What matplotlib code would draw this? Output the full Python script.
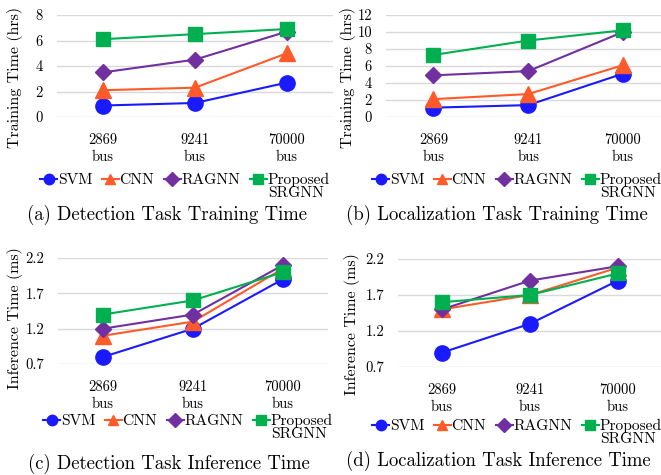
import matplotlib
matplotlib.use("Agg")
import matplotlib.pyplot as plt

plt.rcParams['font.family'] = 'cmr10'
plt.rcParams['mathtext.fontset'] = 'cm'
plt.rcParams['axes.formatter.use_mathtext'] = True

# data
systems = ['2869\nbus', '9241\nbus', '70000\nbus']
methods = ['SVM', 'CNN', 'RAGNN', 'Proposed']

det_train = {
    'SVM': [0.9, 1.1, 2.7],
    'CNN': [2.1, 2.3, 5.0],
    'RAGNN': [3.5, 4.5, 6.7],
    'Proposed': [6.1, 6.5, 6.9],
}
loc_train = {
    'SVM': [1.1, 1.4, 5.1],
    'CNN': [2.1, 2.7, 6.1],
    'RAGNN': [4.9, 5.4, 10.0],
    'Proposed': [7.3, 9.0, 10.2],
}
det_inf = {
    'SVM': [0.8, 1.2, 1.9],
    'CNN': [1.1, 1.3, 2.05],
    'RAGNN': [1.2, 1.4, 2.1],
    'Proposed': [1.4, 1.6, 2.0],
}
loc_inf = {
    'SVM': [0.9, 1.3, 1.9],
    'CNN': [1.5, 1.7, 2.08],
    'RAGNN': [1.5, 1.9, 2.1],
    'Proposed': [1.6, 1.7, 2.0],
}

colors = {'SVM': '#1a1aff', 'CNN': '#ff5a2a', 'RAGNN': '#7030a0', 'Proposed': '#00b050'}
markers = {'SVM': 'o', 'CNN': '^', 'RAGNN': 'D', 'Proposed': 's'}
msizes = {'SVM': 11, 'CNN': 11, 'RAGNN': 8, 'Proposed': 10}

W, H = 661, 475
fig = plt.figure(figsize=(W / 100, H / 100), dpi=100)


def px_axes(left, right, top, bottom):
    return fig.add_axes([left / W, (H - bottom) / H, (right - left) / W, (bottom - top) / H])


# axes box, data, ylim, yticks, ylabel, caption, xlim, legend left/top px, caption centre px,
# ylabel centre px
panels = [
    (px_axes(57, 333, 15, 117), det_train, (0, 8), [0, 2, 4, 6, 8], 'Training Time (hrs)',
     '(a) Detection Task Training Time', (-0.5, 2.5), (40, 173), (167, 215), (15, 78)),
    (px_axes(386, 661, 15, 117), loc_train, (0, 12), [0, 2, 4, 6, 8, 10, 12], 'Training Time (hrs)',
     '(b) Localization Task Training Time', (-0.5, 2.4), (372, 173), (497, 215), (348, 77)),
    (px_axes(58, 328, 258, 364), det_inf, (0.7, 2.2), [0.7, 1.2, 1.7, 2.2], 'Inference Time (ms)',
     '(c) Detection Task Inference Time', (-0.5, 2.5), (43, 414), (169, 464), (15, 318)),
    (px_axes(398, 661, 259, 367), loc_inf, (0.7, 2.2), [0.7, 1.2, 1.7, 2.2], 'Inference Time (ms)',
     '(d) Localization Task Inference Time', (-0.5, 2.49), (372, 419), (498, 461), (352, 324)),
]

x = list(range(len(systems)))
legends = []
for ax, data, ylim, yticks, ylabel, caption, xlim, legpos, cappos, labpos in panels:
    for m in methods:
        ax.plot(x, data[m], color=colors[m], marker=markers[m], markersize=msizes[m],
                linewidth=1.5, label=m, clip_on=False, zorder=3)
    ax.set_ylim(*ylim)
    ax.set_yticks(yticks)
    ax.set_yticklabels([f'{t:g}' for t in yticks])
    ax.set_xlim(*xlim)
    ax.set_xticks(x)
    ax.set_xticklabels(systems, linespacing=1.3)
    for s in ax.spines.values():
        s.set_visible(False)
    ax.grid(axis='y', color='#d9d9d9', linewidth=1)
    ax.set_axisbelow(True)
    ax.tick_params(length=0, labelsize=10.5)
    ax.tick_params(axis='y', pad=10)
    ax.tick_params(axis='x', pad=12)
    fig.text(labpos[0] / W, (H - labpos[1]) / H, ylabel, fontsize=11.5, rotation=90,
             ha='center', va='center')

    leg = fig.legend(*ax.get_legend_handles_labels(), loc='upper left',
                     bbox_to_anchor=(legpos[0] / W, (H - legpos[1]) / H), ncol=4, frameon=False,
                     handlelength=1.1, handletextpad=0.05, columnspacing=0.6, fontsize=11.2,
                     borderaxespad=0, borderpad=0)
    for h in leg.legend_handles:
        h.set_markersize(7.5)
    legends.append(leg)
    fig.text(cappos[0] / W, (H - cappos[1]) / H, caption, fontsize=13.5, ha='center', va='center')

fig.canvas.draw()
r = fig.canvas.get_renderer()
for leg in legends:
    bb = leg.get_texts()[-1].get_window_extent(r)
    fig.text(bb.x0 / W, (bb.y0 - 13) / H, 'SRGNN', fontsize=11.2, ha='left', va='bottom')

fig.savefig('out.png', dpi=100)
